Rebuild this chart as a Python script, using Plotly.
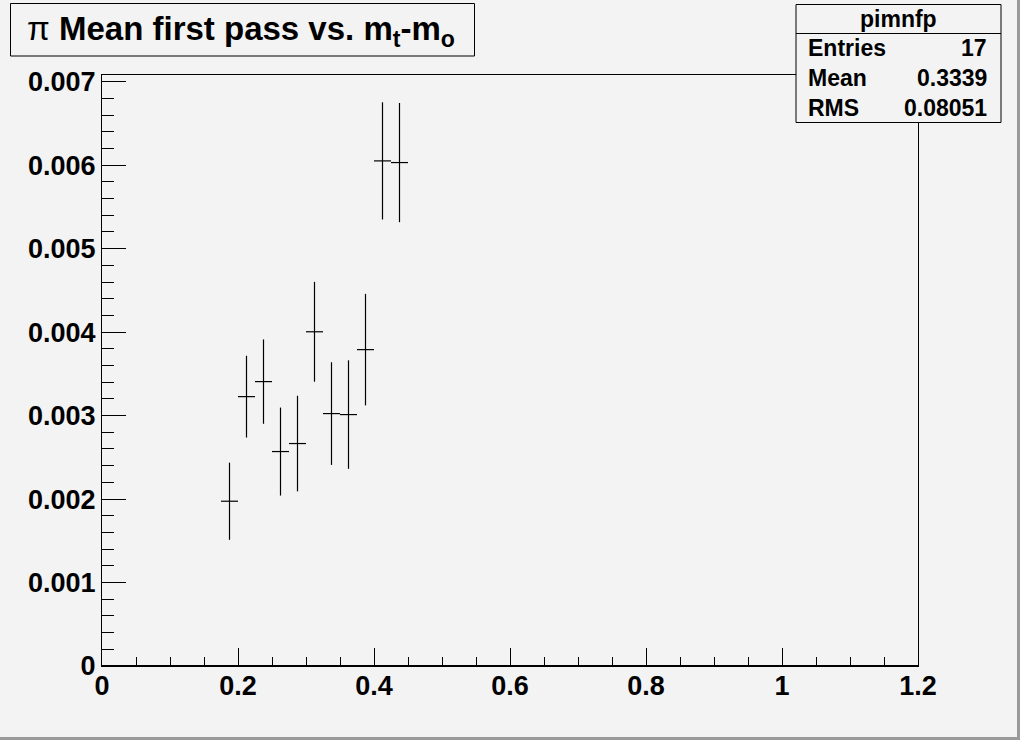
import plotly.graph_objects as go

# Data (bin centers, bin contents, errors)
x_centers = [0.1875, 0.2125, 0.2375, 0.2625, 0.2875, 0.3125, 0.3375, 0.3625, 0.3875, 0.4125, 0.4375]
y_values = [0.001974, 0.003227, 0.003407, 0.002569, 0.002665, 0.004004, 0.003024, 0.003012, 0.00379, 0.006051, 0.006031]
y_errors = [0.000462, 0.00049, 0.000505, 0.000527, 0.000573, 0.000598, 0.000615, 0.00065, 0.000668, 0.000702, 0.000714]
half_bin = [0.0125] * len(x_centers)

x_tickvals = [0, 0.2, 0.4, 0.6, 0.8, 1.0, 1.2]
x_ticktext = ["0", "0.2", "0.4", "0.6", "0.8", "1", "1.2"]
y_tickvals = [0, 0.001, 0.002, 0.003, 0.004, 0.005, 0.006, 0.007]
y_ticktext = ["0", "0.001", "0.002", "0.003", "0.004", "0.005", "0.006", "0.007"]

stats_title = "pimnfp"
stats_labels = ["Entries", "Mean", "RMS"]
stats_values = ["17", "0.3339", "0.08051"]

W, H = 1020, 740
L, R, T, B = 102, 102, 75, 74
BG = "#f3f3f3"
FONT = "Liberation Sans, Arial, sans-serif"

def px(xp):
    return (xp - L) / (W - L - R)

def py(yp):
    return 1 - (yp - T) / (H - T - B)

fig = go.Figure()
fig.add_trace(go.Scatter(
    x=x_centers, y=y_values, mode="markers",
    marker=dict(size=1, color="black"),
    error_y=dict(type="data", array=y_errors, visible=True, width=0, thickness=1.2, color="black"),
    error_x=dict(type="data", array=half_bin, visible=True, width=0, thickness=1.2, color="black"),
    showlegend=False, hoverinfo="skip",
))

axis_common = dict(
    showgrid=False, zeroline=False, showline=True, linecolor="black", linewidth=1,
    mirror=True, ticks="inside", tickcolor="black", tickwidth=1,
    tickfont=dict(family=FONT, size=27, color="black", weight="bold"),
)

fig.update_xaxes(range=[0, 1.2], tickvals=x_tickvals, ticktext=x_ticktext, ticklen=18,
                 ticklabelstandoff=-4,
                 minor=dict(dtick=0.05, ticks="inside", ticklen=9, tickcolor="black", tickwidth=1),
                 **axis_common)
fig.update_yaxes(range=[0, 0.00708], tickvals=y_tickvals, ticktext=y_ticktext, ticklen=24,
                 minor=dict(dtick=0.0002, ticks="inside", ticklen=12, tickcolor="black", tickwidth=1),
                 **axis_common)

shapes = []
# thicker bottom axis line
shapes.append(dict(type="line", xref="paper", yref="paper", x0=0, x1=1, y0=0, y1=0,
                   line=dict(color="black", width=2), layer="above"))
# canvas border (dark right/bottom)
shapes.append(dict(type="rect", xref="paper", yref="paper", x0=px(1017), x1=px(1020), y0=py(0), y1=py(740),
                   line=dict(width=0), fillcolor="#9a9a9a", layer="above"))
shapes.append(dict(type="rect", xref="paper", yref="paper", x0=px(0), x1=px(1020), y0=py(737), y1=py(740),
                   line=dict(width=0), fillcolor="#9a9a9a", layer="above"))
# title box
shapes.append(dict(type="rect", xref="paper", yref="paper", x0=px(10.5), x1=px(474.5), y0=py(56), y1=py(3.5),
                   line=dict(color="black", width=1), fillcolor=BG, layer="above"))
# stats box
shapes.append(dict(type="rect", xref="paper", yref="paper", x0=px(796), x1=px(1001), y0=py(122.5), y1=py(4.5),
                   line=dict(color="black", width=1), fillcolor=BG, layer="above"))
shapes.append(dict(type="line", xref="paper", yref="paper", x0=px(796), x1=px(1001), y0=py(33.5), y1=py(33.5),
                   line=dict(color="black", width=1), layer="above"))

annotations = []
annotations.append(dict(
    xref="paper", yref="paper", x=px(25), y=py(31), xanchor="left", yanchor="middle",
    text="<span style='font-weight:normal'>π</span> <b>Mean first pass vs. m<sub>t</sub>-m<sub>o</sub></b>",
    showarrow=False, font=dict(family=FONT, size=33, color="black"),
))
annotations.append(dict(
    xref="paper", yref="paper", x=px(898), y=py(19), xanchor="center", yanchor="middle",
    text="<b>%s</b>" % stats_title, showarrow=False, font=dict(family=FONT, size=23, color="black"),
))
for i, (lab, val) in enumerate(zip(stats_labels, stats_values)):
    yc = 48 + 30 * i
    annotations.append(dict(
        xref="paper", yref="paper", x=px(806), y=py(yc), xanchor="left", yanchor="middle",
        text="<b>%s</b>" % lab, showarrow=False, font=dict(family=FONT, size=23, color="black"),
    ))
    annotations.append(dict(
        xref="paper", yref="paper", x=px(989), y=py(yc), xanchor="right", yanchor="middle",
        text="<b>%s</b>" % val, showarrow=False, font=dict(family=FONT, size=23, color="black"),
    ))

fig.update_layout(
    width=W, height=H, autosize=False,
    margin=dict(l=L, r=R, t=T, b=B, pad=0),
    paper_bgcolor=BG, plot_bgcolor=BG,
    shapes=shapes, annotations=annotations,
    showlegend=False,
)

fig.write_html("out.html", config={"displayModeBar": False},
               post_script="document.body.style.margin='0';document.body.style.overflow='hidden';")
